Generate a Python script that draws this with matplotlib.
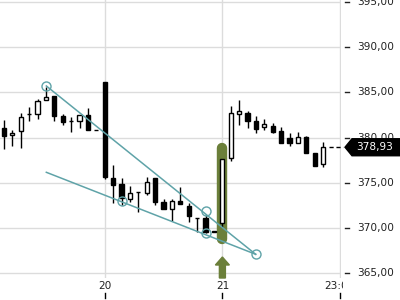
import matplotlib
matplotlib.use("Agg")
import matplotlib.pyplot as plt
from matplotlib.patches import Polygon, Rectangle
import matplotlib.transforms as mtransforms
import numpy as np

# ---- data ----
opens  = [381.09, 380.25, 380.72, 382.55, 382.57, 384.18, 384.59, 382.38, 381.83, 381.80,
          382.49, 380.85, 386.10, 375.50, 374.92, 373.21, 374.02, 373.84, 375.50, 372.91,
          372.10, 373.02, 372.44, 371.14, 371.14, 369.62, 370.59, 377.71, 382.57, 382.75,
          381.86, 381.20, 381.33, 380.76, 379.92, 379.43, 380.09, 378.26, 377.04]
closes = [380.20, 380.54, 382.30, 382.60, 384.09, 384.48, 382.41, 381.69, 381.85, 382.51,
          380.83, 380.82, 375.61, 374.76, 373.27, 373.84, 374.00, 375.12, 372.91, 372.07,
          373.02, 372.62, 371.33, 371.16, 369.60, 369.60, 377.60, 382.68, 382.93, 381.83,
          380.91, 381.46, 380.65, 379.36, 379.36, 380.03, 378.26, 376.86, 378.93]
highs  = [381.94, 380.83, 382.71, 383.41, 384.26, 385.62, 384.60, 382.60, 382.27, 382.51,
          383.30, 380.85, 386.10, 376.97, 375.50, 374.65, 374.02, 375.61, 375.50, 373.18,
          373.18, 374.57, 372.73, 371.16, 371.44, 369.62, 377.60, 383.52, 384.15, 382.93,
          382.38, 382.02, 381.57, 381.20, 380.47, 380.58, 380.20, 378.26, 379.48]
lows   = [378.73, 379.07, 378.88, 381.83, 382.05, 384.18, 381.86, 381.35, 380.65, 381.02,
          380.83, 380.82, 375.40, 372.73, 372.55, 372.91, 371.81, 373.65, 372.55, 372.07,
          370.81, 372.62, 370.70, 369.60, 369.42, 369.60, 370.08, 377.44, 381.39, 381.02,
          380.54, 380.83, 380.47, 379.36, 379.07, 379.43, 378.26, 376.86, 376.78]

x_tick_pos = [12, 26, 40]
x_tick_labels = ["20", "21", "23:00"]
y_ticks = [365, 370, 375, 380, 385, 390, 395]

upper_line_x = [5.04, 29.96]
upper_line_y = [385.70, 367.10]
lower_line_x = [5.04, 29.96]
lower_line_y = [376.16, 367.10]
circle_x = [5.04, 14.0, 24.0, 24.0, 29.96]
circle_y = [385.70, 373.0, 371.85, 369.45, 367.10]

signal_idx = 26
signal_top = 378.85
signal_bottom = 368.8

last_price = closes[-1]
last_label = "378,93"

TEAL = "#5fa3a8"
GREEN = "#6b7f3a"

fig = plt.figure(figsize=(4, 3), dpi=100)
W, H = 400, 300
ax = fig.add_axes([0, 22 / H, 341 / W, 278 / H])
ax.set_xlim(-0.476, 40.12)
ax.set_ylim(364.48, 395.20)
for s in ax.spines.values():
    s.set_visible(False)
ax.set_xticks([])
ax.set_yticks([])

# grid
for v in y_ticks:
    ax.axhline(v, color="#dcdcdc", lw=1, zorder=0)
for xp in x_tick_pos:
    ax.axvline(xp, color="#dcdcdc", lw=1, zorder=0)

# signal highlight
ax.plot([signal_idx, signal_idx], [signal_bottom, signal_top], color=GREEN, lw=7.5,
        solid_capstyle="round", zorder=1)

# candles
x = np.arange(len(opens))
o = np.array(opens); c = np.array(closes)
ax.vlines(x, lows, highs, color="black", lw=1, zorder=2)
cols = ["white" if cc >= oo else "black" for oo, cc in zip(o, c)]
ax.bar(x, np.abs(c - o), bottom=np.minimum(o, c), width=0.5, color=cols,
       edgecolor="black", linewidth=1, zorder=3)

# trendlines
ax.plot(upper_line_x, upper_line_y, color=TEAL, lw=1.1, zorder=4)
ax.plot(lower_line_x, lower_line_y, color=TEAL, lw=1.1, zorder=4)
ax.plot(circle_x, circle_y, ls="none", marker="o", ms=6.5, mfc="none", mec=TEAL,
        mew=1.0, zorder=5)

# up arrow under signal candle
ppx = 40.12 + 0.476
px_x = ppx / 341.0
px_y = (395.20 - 364.48) / 278.0
tip = 366.8
hw, sw = 7 * px_x, 3 * px_x
hl = 8 * px_y
bot = 364.48
arrow = Polygon([(signal_idx, tip), (signal_idx + hw, tip - hl), (signal_idx + sw, tip - hl),
                 (signal_idx + sw, bot), (signal_idx - sw, bot), (signal_idx - sw, tip - hl),
                 (signal_idx - hw, tip - hl)], closed=True, color=GREEN, zorder=5, clip_on=False)
ax.add_patch(arrow)

# last price dashed line
ax.plot([38.7, 40.3], [last_price, last_price], color="black", lw=1, ls=(0, (3, 2)),
        clip_on=False, zorder=5)

# y labels on right
trans_y = mtransforms.blended_transform_factory(fig.transFigure, ax.transData)
for v in y_ticks:
    ax.plot([345 / W, 349 / W], [v, v], color="#222222", lw=1, transform=trans_y, clip_on=False)
    fig.text(357 / W, 0, f"{v:.2f}".replace(".", ","), transform=trans_y, fontsize=7.6,
             color="#222222", va="center", ha="left").set_y(v)

# price tag
ty = ax.transData.transform((0, last_price))[1] / (H)
th = 8.5 / H
tag = Polygon([(345 / W, ty), (352 / W, ty + th), (1.0, ty + th), (1.0, ty - th), (352 / W, ty - th)],
              closed=True, transform=fig.transFigure, color="black", zorder=10)
fig.patches.append(tag)
fig.text(375 / W, ty, last_label, color="white", fontsize=7.6, ha="center", va="center", zorder=11)

# x tick labels and tick marks
trans_x = mtransforms.blended_transform_factory(ax.transData, fig.transFigure)
clip = Rectangle((0, 0), 343 / W, 1, transform=fig.transFigure)
for xp, lab in zip(x_tick_pos, x_tick_labels):
    t = ax.text(xp, 1 - 286 / H, lab, transform=trans_x, fontsize=7.6, color="#222222",
                ha="center", va="center", clip_on=True)
    t.set_clip_path(clip)
    ax.plot([xp, xp], [1 - 293 / H, 1 - 298 / H], transform=trans_x, color="black", lw=1,
            clip_on=False)

fig.savefig("out.png", dpi=100)
